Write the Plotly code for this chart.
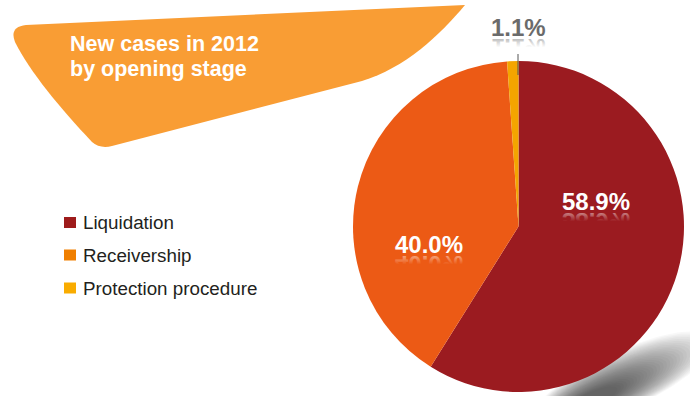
import numpy as np
import plotly.graph_objects as go

# Opening stages of new cases in 2012 (share of cases, %)
stages = ["Liquidation", "Receivership", "Protection procedure"]
shares = [58.9, 40.0, 1.1]

slice_colors = ["#9B1B20", "#EC5A15", "#F4A500"]
legend_colors = ["#9E1B1B", "#F07F00", "#F9AC00"]

W, H = 690, 396
FONT = "Liberation Sans, Arial, Helvetica, sans-serif"

fig = go.Figure()

# soft ground shadow at the lower right of the pie: many stacked faint ellipses
phi = np.linspace(0, 2 * np.pi, 120)
rot = np.deg2rad(-25)
n_layers = 30
for k in range(n_layers):
    t = k / (n_layers - 1)
    ex, ey = 622 + (590 - 622) * t, 381 + (401 - 381) * t
    a, b = 100 + (30 - 100) * t, 29 + (8 - 29) * t
    px = ex + a * np.cos(phi) * np.cos(rot) - b * np.sin(phi) * np.sin(rot)
    py = ey + a * np.cos(phi) * np.sin(rot) + b * np.sin(phi) * np.cos(rot)
    fig.add_trace(go.Scatter(
        x=px, y=py, mode="lines", fill="toself",
        fillcolor="rgba(0,0,0,0.027)", line=dict(width=0, color="rgba(0,0,0,0)"),
        hoverinfo="skip", showlegend=False,
    ))

# pie: centre (518.5, 226.5), radius 165.5 in page pixels
cx, cy, r = 518.5, 226.5, 165.5
fig.add_trace(go.Pie(
    labels=stages, values=shares, sort=False, direction="clockwise",
    rotation=0, marker=dict(colors=slice_colors, line=dict(width=0)),
    textinfo="none", hoverinfo="label+percent", showlegend=False,
    domain=dict(x=[(cx - r) / W, (cx + r) / W],
                y=[1 - (cy + r) / H, 1 - (cy - r) / H]),
))

# title banner
fig.add_shape(
    type="path", xref="x", yref="y", layer="below",
    path="M 465,5 C 440,35 405,68 362,81 L 112,146 Q 100,149 92,142 "
         "C 60,108 30,72 15,42 Q 9,27 26,25 Z",
    fillcolor="#F99D34", line=dict(width=0),
)
for line_text, ty in [("New cases in 2012", 44), ("by opening stage", 69)]:
    fig.add_annotation(x=68, y=ty, xref="x", yref="y", xanchor="left", yanchor="middle",
                       text=line_text, showarrow=False,
                       font=dict(family=FONT, size=21.5, color="white", weight="bold"))

# legend
legend_rows = [222.5, 255, 288]
for name, col, ly in zip(stages, legend_colors, legend_rows):
    fig.add_shape(type="rect", xref="x", yref="y", x0=64, x1=76, y0=ly - 5.5, y1=ly + 5.5,
                  fillcolor=col, line=dict(width=0))
    fig.add_annotation(x=81, y=ly, xref="x", yref="y", xanchor="left", yanchor="middle",
                       text=name, showarrow=False,
                       font=dict(family=FONT, size=18.8, color="#231F20"))

# value labels
label_pos = [(596, 201, "white"), (429, 244, "white"), (518.5, 27, "#6b6b6b")]
for v, (lx, ly, col) in zip(shares, label_pos):
    fig.add_annotation(x=lx, y=ly, xref="x", yref="y", xanchor="center", yanchor="middle",
                       text=f"{v:.1f}%", showarrow=False,
                       font=dict(family=FONT, size=24, color=col, weight="bold"))

# leader line to the smallest slice
fig.add_shape(type="line", xref="x", yref="y", x0=518, x1=518, y0=54, y1=75,
              line=dict(color="#555555", width=1))

fig.update_xaxes(range=[0, W], visible=False, fixedrange=True)
fig.update_yaxes(range=[H, 0], visible=False, fixedrange=True)
fig.update_layout(
    width=W, height=H, margin=dict(l=0, r=0, t=0, b=0),
    paper_bgcolor="white", plot_bgcolor="white", showlegend=False,
)

# mirrored, fading copies of the percentage labels (glossy reflection)
reflection_js = """
var gd = document.getElementById('{plot_id}');
var NS = 'http://www.w3.org/2000/svg';
var svgs = gd.querySelectorAll('svg.main-svg');
var svgTop = svgs[svgs.length - 1];
var defs = svgTop.querySelector('defs');
if (!defs) { defs = document.createElementNS(NS, 'defs'); svgTop.insertBefore(defs, svgTop.firstChild); }
var n = 0;
gd.querySelectorAll('g.annotation text.annotation-text').forEach(function (t) {
  if (!/%$/.test(t.textContent.trim())) return;
  var cs = window.getComputedStyle(t);
  var col = cs.fill;
  var gid = 'pct-refl-' + (n++);
  var grad = document.createElementNS(NS, 'linearGradient');
  grad.setAttribute('id', gid);
  grad.setAttribute('x1', '0'); grad.setAttribute('y1', '0');
  grad.setAttribute('x2', '0'); grad.setAttribute('y2', '1');
  [[0, 0], [0.5, 0], [0.82, 0.45]].forEach(function (s) {
    var st = document.createElementNS(NS, 'stop');
    st.setAttribute('offset', s[0]);
    st.setAttribute('stop-color', col);
    st.setAttribute('stop-opacity', s[1]);
    grad.appendChild(st);
  });
  defs.appendChild(grad);
  var bb = t.getBBox();
  var base = bb.y + bb.height - 0.212 * parseFloat(cs.fontSize);
  var c = t.cloneNode(true);
  c.setAttribute('transform', 'translate(0,' + (2 * base + 3) + ') scale(1,-1)');
  c.style.fill = 'url(#' + gid + ')';
  c.style.fillOpacity = 1;
  t.parentNode.insertBefore(c, t);
});
"""

fig.write_html("out.html", post_script=reflection_js)
